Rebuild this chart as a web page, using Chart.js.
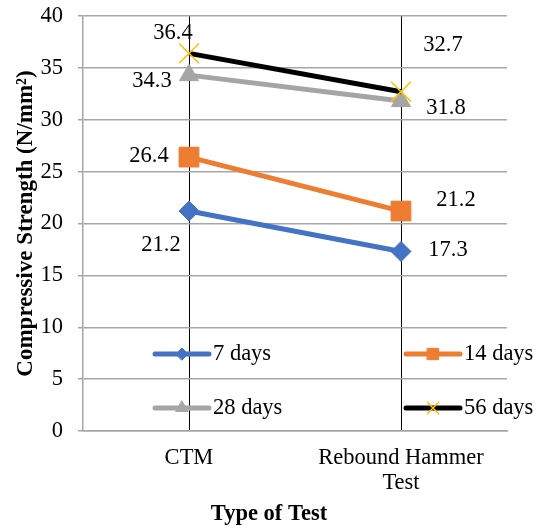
<!DOCTYPE html>
<html>
<head>
<meta charset="utf-8">
<style>
  html, body { margin: 0; padding: 0; background: #fff; }
  #wrap { width: 538px; height: 529px; position: relative; }
</style>
<script src="https://cdn.jsdelivr.net/npm/chart.js@4.4.1/dist/chart.umd.min.js"></script>
</head>
<body>
<div id="wrap"><canvas id="chart"></canvas></div>
<script>
const testTypes = [['CTM'], ['Rebound Hammer', 'Test']];
const seriesNames = ['7 days', '14 days', '28 days', '56 days'];
const days7 = [21.2, 17.3];
const days14 = [26.4, 21.2];
const days28 = [34.3, 31.8];
const days56 = [36.4, 32.7];
const yTicks = [0, 5, 10, 15, 20, 25, 30, 35, 40];
const xTitle = 'Type of Test';
const yTitle = 'Compressive Strength (N/mm²)';

const serif = "'Liberation Serif', 'Times New Roman', serif";
const fontSize = 22.5;

// label offsets from each point, px
const labelOffsets = [
    [[-28, 34], [47, -1]],
    [[-40, -1], [55, -11]],
    [[-37, 6], [45, 7]],
    [[-16, -20], [42, -47]]
];

// legend slots inside the plot
const legendSlots = [[155, 354], [406, 354], [155, 408], [406, 408]];

const styles = [
    { color: '#4472C4', point: 'rectRot', radius: 10, legendRadius: 6 },
    { color: '#ED7D31', point: 'rect', radius: 14, legendRadius: 8 },
    { color: '#A5A5A5', point: 'triangle', radius: 11, legendRadius: 7 },
    { color: '#000000', point: 'crossRot', radius: 14, legendRadius: 8, pointColor: '#FFC000' }
];

const seriesData = [days7, days14, days28, days56];

const datasets = seriesData.map((values, i) => ({
    label: seriesNames[i],
    data: values,
    borderColor: styles[i].color,
    backgroundColor: styles[i].pointColor || styles[i].color,
    pointBorderColor: styles[i].pointColor || styles[i].color,
    pointBackgroundColor: styles[i].pointColor || styles[i].color,
    borderWidth: 5,
    pointStyle: styles[i].point,
    pointRadius: styles[i].radius,
    pointHoverRadius: styles[i].radius,
    pointBorderWidth: styles[i].point === 'crossRot' ? 1.5 : 1,
    order: 3 - i,
    tension: 0,
    fill: false
}));

const valueLabels = {
    id: 'valueLabels',
    afterDatasetsDraw(chart) {
        const ctx = chart.ctx;
        ctx.save();
        ctx.font = fontSize + 'px ' + serif;
        ctx.fillStyle = '#000';
        ctx.textAlign = 'center';
        ctx.textBaseline = 'middle';
        chart.data.datasets.forEach((ds, i) => {
            const meta = chart.getDatasetMeta(i);
            meta.data.forEach((pt, j) => {
                const off = labelOffsets[i][j];
                ctx.fillText(ds.data[j].toFixed(1), pt.x + off[0], pt.y + off[1]);
            });
        });
        ctx.restore();
    }
};

const insideLegend = {
    id: 'insideLegend',
    afterDraw(chart) {
        const ctx = chart.ctx;
        ctx.save();
        seriesNames.forEach((name, i) => {
            const [x, y] = legendSlots[i];
            const st = styles[i];
            ctx.strokeStyle = st.color;
            ctx.lineWidth = 5;
            ctx.lineCap = 'round';
            ctx.beginPath();
            ctx.moveTo(x, y);
            ctx.lineTo(x + 54, y);
            ctx.stroke();
            const pc = st.pointColor || st.color;
            ctx.fillStyle = pc;
            ctx.strokeStyle = pc;
            ctx.lineWidth = st.point === 'crossRot' ? 1.5 : 1;
            Chart.helpers.drawPoint(ctx, { pointStyle: st.point, radius: st.legendRadius, rotation: 0, borderWidth: ctx.lineWidth }, x + 27, y);
            ctx.fillStyle = '#000';
            ctx.font = fontSize + 'px ' + serif;
            ctx.textAlign = 'left';
            ctx.textBaseline = 'middle';
            ctx.fillText(name, x + 58, y);
        });
        // x axis title, Excel puts it a bit left of the plot centre
        ctx.font = 'bold ' + fontSize + 'px ' + serif;
        ctx.textAlign = 'center';
        ctx.fillText(xTitle, 269, 514);
        ctx.restore();
    }
};

new Chart(document.getElementById('chart'), {
    type: 'line',
    data: {
        labels: testTypes,
        datasets: datasets
    },
    options: {
        responsive: true,
        maintainAspectRatio: false,
        animation: false,
        layout: { padding: { top: 16, right: 31, left: 0, bottom: 0 } },
        plugins: {
            legend: { display: false },
            tooltip: { enabled: false }
        },
        scales: {
            x: {
                offset: true,
                afterFit: scale => { scale.height = 98; },
                grid: { color: '#000', lineWidth: 1, drawTicks: false, offset: false },
                border: { color: '#A6A6A6', width: 1.5 },
                ticks: { color: '#000', font: { family: serif, size: fontSize, lineHeight: 1.1 }, padding: 15 }
            },
            y: {
                min: 0,
                max: 40,
                afterFit: scale => { scale.width = 83; scale.paddingTop = 0; },
                afterBuildTicks: scale => { scale.ticks = yTicks.map(v => ({ value: v })); },
                grid: { color: '#A6A6A6', lineWidth: 1.5, tickLength: 5 },
                border: { color: '#A6A6A6', width: 1.5 },
                ticks: { color: '#000', font: { family: serif, size: fontSize }, padding: 15 },
                title: {
                    display: true,
                    text: yTitle,
                    color: '#000',
                    font: { family: serif, size: 23, weight: 'bold' },
                    padding: { top: 12 }
                }
            }
        }
    },
    plugins: [valueLabels, insideLegend]
});
</script>
</body>
</html>
